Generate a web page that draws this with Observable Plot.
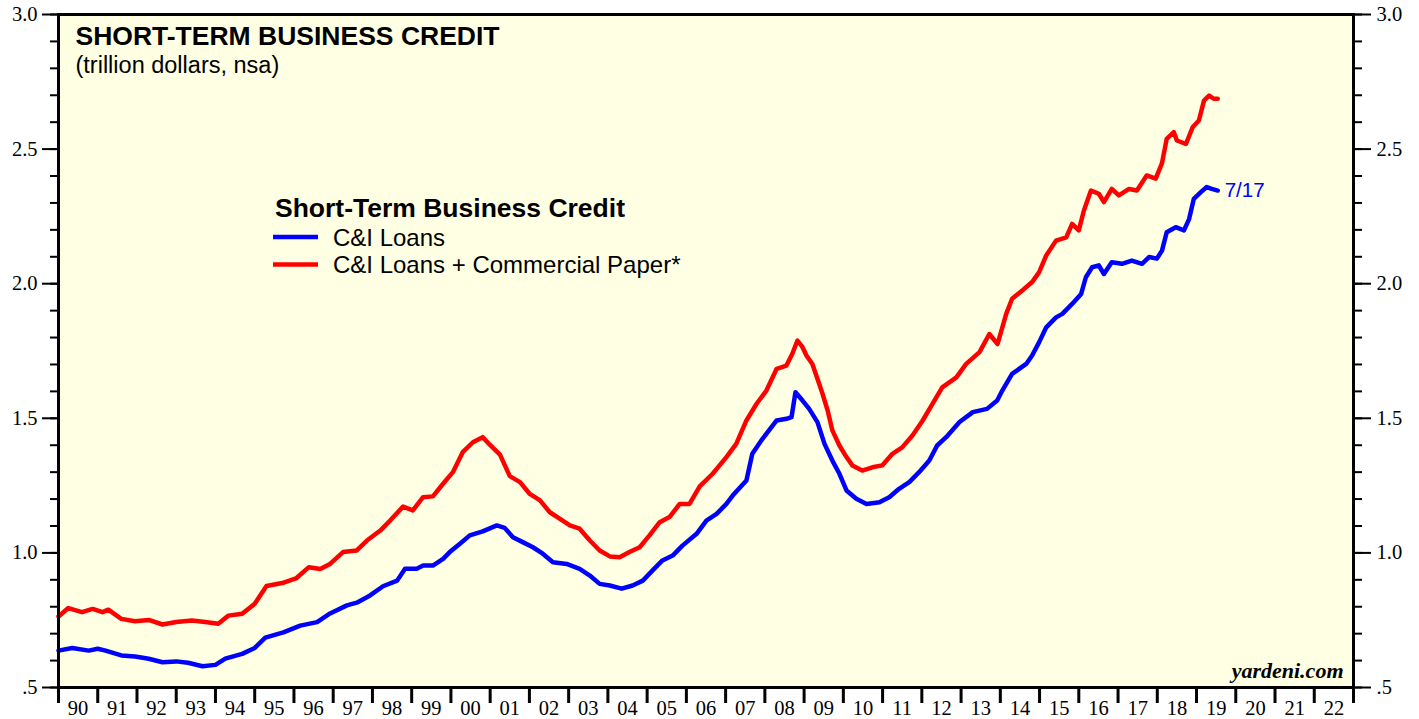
<!DOCTYPE html>
<html><head><meta charset="utf-8">
<script src="https://cdn.jsdelivr.net/npm/d3@7"></script>
<script src="https://cdn.jsdelivr.net/npm/@observablehq/plot@0.6"></script>
<style>body{margin:0;background:#fff}</style>
</head><body><div id="chart"></div>
<script>
// C&I Loans (trillion dollars) — decimal year / value
const ciDates = [1990.0,1990.35,1990.77,1991.0,1991.2,1991.6,1991.95,1992.3,1992.65,1993.0,1993.3,1993.67,1994.0,1994.25,1994.68,1995.0,1995.27,1995.73,1996.16,1996.59,1996.92,1997.35,1997.6,1997.94,1998.27,1998.63,1998.83,1999.13,1999.29,1999.54,1999.8,1999.97,2000.23,2000.48,2000.81,2001.17,2001.37,2001.58,2001.83,2002.09,2002.34,2002.6,2002.95,2003.28,2003.54,2003.79,2004.05,2004.35,2004.63,2004.89,2005.14,2005.39,2005.65,2005.9,2006.26,2006.51,2006.77,2007.02,2007.18,2007.53,2007.68,2007.94,2008.3,2008.55,2008.68,2008.78,2008.96,2009.13,2009.34,2009.52,2009.72,2009.9,2010.08,2010.33,2010.59,2010.92,2011.17,2011.42,2011.68,2011.93,2012.19,2012.39,2012.62,2012.96,2013.3,2013.66,2013.92,2014.05,2014.3,2014.66,2014.81,2014.99,2015.17,2015.42,2015.58,2015.83,2016.06,2016.18,2016.34,2016.51,2016.64,2016.84,2017.1,2017.35,2017.61,2017.79,2017.99,2018.12,2018.24,2018.47,2018.68,2018.81,2018.93,2019.11,2019.26,2019.39,2019.54];
const ciValues = [0.637,0.647,0.637,0.644,0.637,0.619,0.615,0.607,0.594,0.597,0.592,0.579,0.584,0.607,0.625,0.647,0.685,0.705,0.730,0.743,0.775,0.805,0.815,0.842,0.876,0.897,0.941,0.941,0.953,0.953,0.978,1.003,1.034,1.065,1.080,1.102,1.093,1.058,1.040,1.021,0.997,0.965,0.959,0.941,0.916,0.885,0.879,0.867,0.879,0.897,0.935,0.972,0.990,1.027,1.071,1.120,1.145,1.182,1.213,1.269,1.368,1.424,1.492,1.498,1.504,1.597,1.566,1.535,1.486,1.405,1.343,1.294,1.232,1.201,1.182,1.188,1.207,1.238,1.263,1.300,1.343,1.399,1.430,1.486,1.523,1.535,1.566,1.603,1.665,1.702,1.733,1.783,1.838,1.875,1.888,1.925,1.962,2.024,2.061,2.068,2.036,2.080,2.074,2.086,2.074,2.099,2.093,2.123,2.191,2.210,2.198,2.240,2.315,2.340,2.359,2.352,2.346];

// C&I Loans + Commercial Paper (trillion dollars)
const cpDates = [1990.0,1990.25,1990.6,1990.87,1991.12,1991.27,1991.6,1991.95,1992.3,1992.65,1993.0,1993.4,1993.74,1994.07,1994.33,1994.68,1995.0,1995.3,1995.7,1996.05,1996.38,1996.67,1996.92,1997.25,1997.6,1997.86,1998.2,1998.45,1998.78,1999.03,1999.29,1999.54,1999.8,2000.05,2000.3,2000.56,2000.81,2000.99,2001.25,2001.5,2001.76,2002.01,2002.27,2002.52,2002.77,2003.03,2003.28,2003.54,2003.79,2004.05,2004.3,2004.55,2004.81,2005.06,2005.32,2005.57,2005.83,2006.08,2006.34,2006.67,2007.02,2007.27,2007.53,2007.79,2008.04,2008.3,2008.55,2008.7,2008.83,2008.96,2009.06,2009.21,2009.34,2009.47,2009.6,2009.72,2009.9,2010.08,2010.23,2010.48,2010.74,2010.99,2011.25,2011.5,2011.76,2012.01,2012.26,2012.52,2012.88,2013.13,2013.47,2013.72,2013.93,2014.15,2014.3,2014.56,2014.81,2014.99,2015.17,2015.42,2015.68,2015.83,2016.0,2016.13,2016.31,2016.51,2016.64,2016.84,2017.02,2017.28,2017.48,2017.73,2017.96,2018.12,2018.24,2018.42,2018.5,2018.73,2018.9,2019.06,2019.19,2019.32,2019.44,2019.54];
const cpValues = [0.764,0.795,0.780,0.792,0.780,0.789,0.755,0.746,0.751,0.734,0.743,0.749,0.743,0.737,0.767,0.774,0.811,0.877,0.888,0.905,0.947,0.940,0.959,1.003,1.009,1.046,1.083,1.120,1.172,1.158,1.207,1.210,1.257,1.300,1.374,1.411,1.430,1.402,1.365,1.285,1.263,1.219,1.195,1.151,1.127,1.102,1.090,1.046,1.009,0.987,0.984,1.003,1.021,1.065,1.114,1.133,1.182,1.182,1.247,1.294,1.356,1.405,1.492,1.554,1.603,1.684,1.696,1.740,1.789,1.764,1.733,1.702,1.647,1.591,1.529,1.455,1.399,1.356,1.325,1.306,1.318,1.325,1.368,1.392,1.436,1.489,1.551,1.615,1.652,1.702,1.746,1.813,1.776,1.888,1.944,1.975,2.006,2.043,2.105,2.160,2.172,2.222,2.198,2.272,2.346,2.334,2.303,2.352,2.328,2.352,2.346,2.402,2.390,2.448,2.538,2.563,2.532,2.519,2.581,2.606,2.680,2.699,2.687,2.687];

const seriesNames = ["C&I Loans", "C&I Loans + Commercial Paper*"];
const seriesColors = ["#0000ff", "#ff0000"];
const yearBoundaries = d3.range(1990, 2024);
const yearLabelYears = d3.range(1990, 2023);
const yMajorTicks = [0.5, 1.0, 1.5, 2.0, 2.5, 3.0];
const yMinorTicks = d3.range(5, 31).map(d => d / 10);
const titleText = "SHORT-TERM BUSINESS CREDIT";
const subtitleText = "(trillion dollars, nsa)";
const legendTitle = "Short-Term Business Credit";
const lastDateLabel = "7/17";
const sourceText = "yardeni.com";

const ci = ciDates.map((d, i) => ({date: d, value: ciValues[i]}));
const cp = cpDates.map((d, i) => ({date: d, value: cpValues[i]}));

const serif = "'Liberation Serif', 'Times New Roman', serif";
const sans = "'Liberation Sans', Arial, sans-serif";
const yFmt = d => d === 0.5 ? ".5" : d.toFixed(1);
const axisStyle = {fontSize: 20.5, fontFamily: serif, color: "black", strokeWidth: 2, label: null};

const chart = Plot.plot({
  width: 1419, height: 719,
  marginLeft: 58, marginRight: 66, marginTop: 14, marginBottom: 32,
  style: {background: "white", color: "black", fontFamily: serif},
  x: {domain: [1990, 2023], axis: null},
  y: {domain: [0.5, 3.0], axis: null},
  marks: [
    Plot.frame({fill: "#ffffe3"}),
    Plot.axisY(yMinorTicks, {anchor: "left", tickSize: 8, tickFormat: () => "", ...axisStyle}),
    Plot.axisY(yMajorTicks, {anchor: "left", tickSize: 16, tickPadding: 5, tickFormat: yFmt, ...axisStyle}),
    Plot.axisY(yMinorTicks, {anchor: "right", tickSize: 8, tickFormat: () => "", ...axisStyle}),
    Plot.axisY(yMajorTicks, {anchor: "right", tickSize: 17, tickPadding: 6, tickFormat: yFmt, ...axisStyle}),
    Plot.axisX(yearBoundaries, {anchor: "bottom", tickSize: 16, tickFormat: () => "", ...axisStyle, strokeWidth: 3}),
    Plot.axisX(yearLabelYears.map(y => y + 0.5), {anchor: "bottom", tickSize: 0, tickPadding: 13,
      tickFormat: d => String(Math.floor(d) % 100).padStart(2, "0"), ...axisStyle}),
    Plot.line(ci, {x: "date", y: "value", stroke: seriesColors[0], strokeWidth: 4.5, strokeLinejoin: "round"}),
    Plot.line(cp, {x: "date", y: "value", stroke: seriesColors[1], strokeWidth: 4.5, strokeLinejoin: "round"}),
    Plot.text([ci[ci.length - 1]], {x: "date", y: "value", text: () => lastDateLabel, dx: 7, textAnchor: "start",
      lineAnchor: "middle", fill: seriesColors[0], fontSize: 20.5, fontFamily: sans}),
    Plot.text([titleText], {frameAnchor: "top-left", dx: 17, dy: 12, lineAnchor: "top", text: d => d,
      fontSize: 26.5, fontWeight: "bold", fontFamily: sans, fill: "black"}),
    Plot.text([subtitleText], {frameAnchor: "top-left", dx: 17, dy: 42, lineAnchor: "top", text: d => d,
      fontSize: 23.5, fontFamily: sans, fill: "black"}),
    Plot.text([sourceText], {frameAnchor: "bottom-right", dx: -10, dy: -10, lineAnchor: "bottom", text: d => d,
      fontSize: 22, fontWeight: "bold", fontStyle: "italic", fontFamily: serif, fill: "black"}),
    Plot.frame({stroke: "black", strokeWidth: 3})
  ]
});
document.getElementById("chart").appendChild(chart);

// Legend
const svg = d3.select(chart);
const lg = svg.append("g").attr("font-family", sans).attr("fill", "black").attr("text-anchor", "start");
lg.append("text").attr("x", 275).attr("y", 217).attr("font-size", 26.5).attr("font-weight", "bold").text(legendTitle);
seriesNames.forEach((name, i) => {
  const y = 237 + i * 27.5;
  lg.append("line").attr("x1", 273).attr("x2", 318).attr("y1", y).attr("y2", y)
    .attr("stroke", seriesColors[i]).attr("stroke-width", 4.5);
  lg.append("text").attr("x", 333).attr("y", y + 8.5).attr("font-size", 24).text(name);
});
</script>
</body></html>
